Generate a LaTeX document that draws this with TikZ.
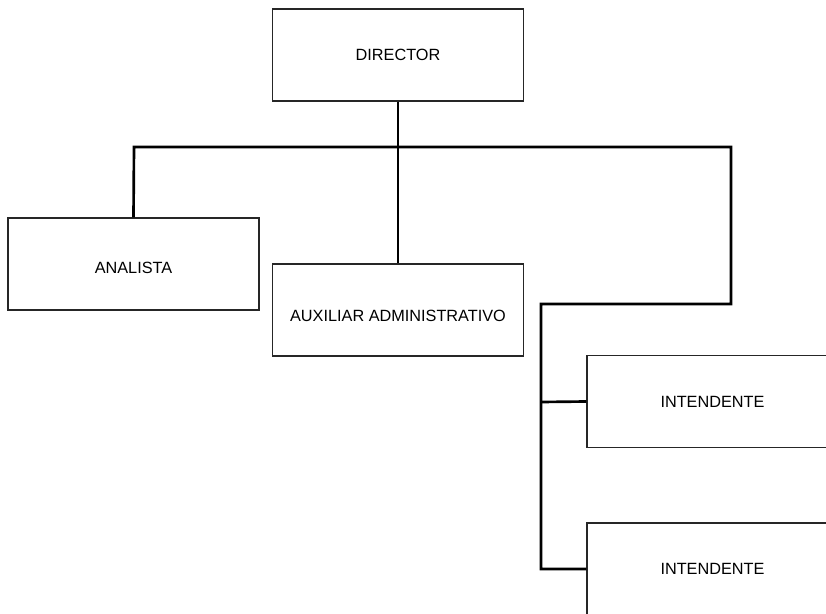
\documentclass[tikz,border=0pt]{standalone}
\usepackage{fontspec}
\setmainfont{Liberation Sans}
\begin{document}
\begin{tikzpicture}[x=0.75pt,y=-0.75pt,
  orgbox/.style={draw=black!85,line width=1pt,fill=white,inner sep=0pt,
    minimum width={251*0.75pt},minimum height={92*0.75pt},
    text height=8.6pt,text depth=0pt,
    font=\fontsize{12.2}{14}\selectfont},
  conn/.style={draw=black,line width=2pt}]
\useasboundingbox (0,0) rectangle (826,614);
\clip (0,0) rectangle (826,614);
\fill[white] (0,0) rectangle (826,614);
\coordinate (busL) at (134,147);
\coordinate (busR) at (731,147);
\coordinate (bendR) at (731,304);
\coordinate (bendL) at (541,304);
\coordinate (j1) at (541,402);
\coordinate (j2) at (541,569);
\node[orgbox] (dir) at (398,55) {DIRECTOR};
\node[orgbox,text height=14.6pt] (ana) at (133.5,264) {ANALISTA};
\node[orgbox,text height=17.6pt] (aux) at (398,310) {AUXILIAR ADMINISTRATIVO};
\node[orgbox] (int1) at (712.5,401.5) {INTENDENTE};
\node[orgbox] (int2) at (712.5,569) {INTENDENTE};
\draw[conn] (dir.south) -- (aux.north);
\draw[conn] (ana.north) -- (busL) -- (busR) -- (bendR) -- (bendL) -- (j2) -- (int2.west);
\draw[conn] (j1) -- (int1.west);
\end{tikzpicture}
\end{document}
